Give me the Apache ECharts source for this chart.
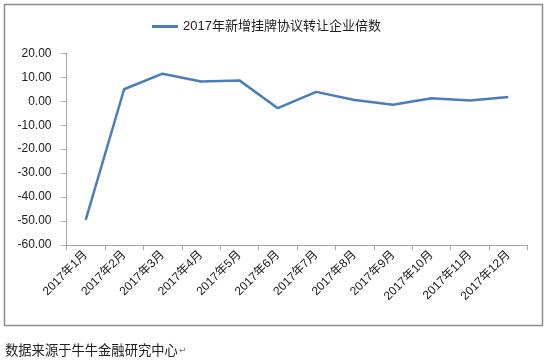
<!DOCTYPE html>
<html><head><meta charset="utf-8">
<script src="https://cdn.jsdelivr.net/npm/echarts@6/dist/echarts.min.js"></script>
<style>html,body{margin:0;padding:0;background:#fff}#c{width:550px;height:363px}</style>
</head><body><div id="c"></div>
<script>
const categories = ['2017年1月','2017年2月','2017年3月','2017年4月','2017年5月','2017年6月','2017年7月','2017年8月','2017年9月','2017年10月','2017年11月','2017年12月'];
const seriesName = '2017年新增挂牌协议转让企业倍数';
const values = [-49.5, 5.0, 11.5, 8.2, 8.7, -2.9, 3.9, 0.5, -1.5, 1.2, 0.3, 1.8];
const yMin = -60, yMax = 20, yStep = 10;
const footnote = '数据来源于牛牛金融研究中心';

const chart = echarts.init(document.getElementById('c'), null, {renderer:'canvas'});
chart.setOption({
  animation: false,
  backgroundColor: '#fff',
  textStyle: {fontFamily: 'Liberation Sans, Noto Sans CJK SC, sans-serif'},
  legend: {
    top: 15, left: 147,
    data: [seriesName],
    icon: 'rect', itemWidth: 26, itemHeight: 3, itemGap: 4,
    textStyle: {fontSize: 13, color: '#222', fontFamily: 'Liberation Sans, Noto Sans CJK SC, sans-serif'}
  },
  grid: {left: 66.5, right: 22.5, top: 53.3, bottom: 118, containLabel: false},
  xAxis: {
    type: 'category', data: categories, boundaryGap: true,
    axisLine: {onZero: false, lineStyle: {color: '#a6a6a6', width: 1}},
    axisTick: {show: true, alignWithLabel: false, length: 5, lineStyle: {color: '#a6a6a6'}},
    axisLabel: {rotate: 45, fontSize: 12, color: '#222', margin: 8, interval: 0}
  },
  yAxis: {
    type: 'value', min: yMin, max: yMax, interval: yStep,
    axisLine: {show: true, lineStyle: {color: '#a6a6a6', width: 1}},
    axisTick: {show: true, length: 5, lineStyle: {color: '#a6a6a6'}},
    splitLine: {show: false},
    axisLabel: {fontSize: 12, color: '#222', margin: 15, formatter: v => v.toFixed(2)}
  },
  series: [{
    name: seriesName, type: 'line', data: values,
    showSymbol: false, symbol: 'none',
    lineStyle: {color: '#4a7ebb', width: 2.5},
    itemStyle: {color: '#4a7ebb'}
  }],
  graphic: [
    {type: 'rect', shape: {x: 4.5, y: 4.5, width: 538, height: 321}, style: {fill: 'none', stroke: '#8c8c8c', lineWidth: 1.5}, z: -1},
    {type: 'text', left: 5, top: 343, style: {text: footnote, font: '13.3px "Noto Sans CJK SC"', fill: '#222'}},
    {type: 'text', left: 179, top: 346, style: {text: '↵', font: '9px "DejaVu Sans"', fill: '#777'}}
  ]
});
</script></body></html>
